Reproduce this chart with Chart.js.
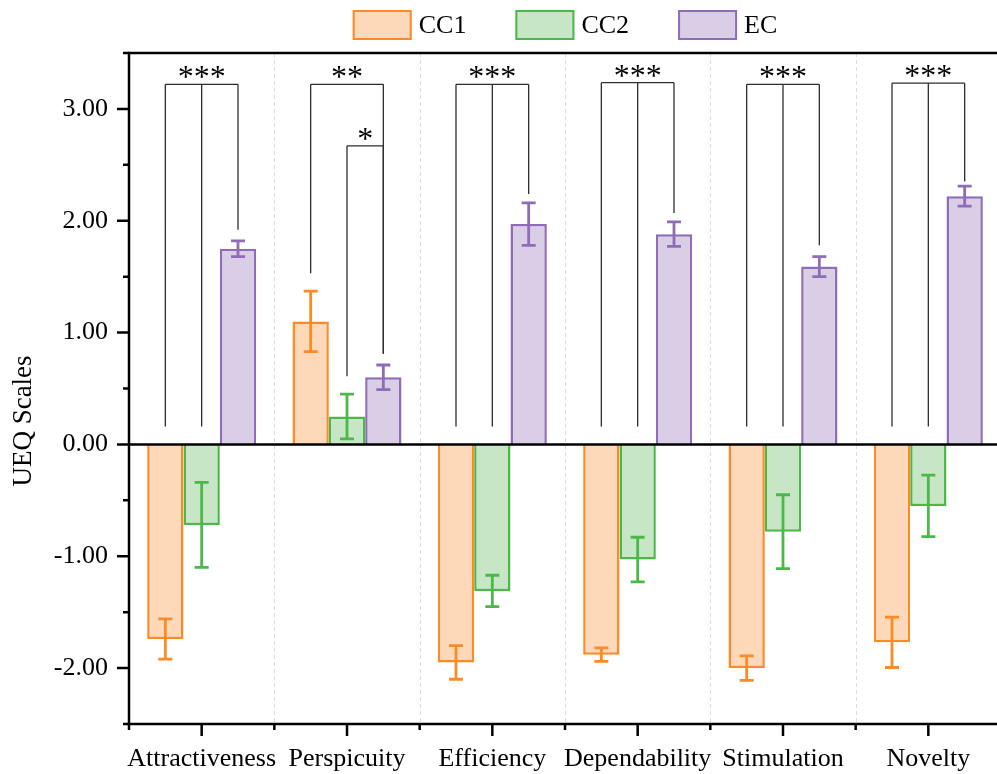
<!DOCTYPE html>
<html>
<head>
<meta charset="utf-8">
<script src="https://cdn.jsdelivr.net/npm/chart.js@4.4.1/dist/chart.umd.min.js"></script>
<style>
html,body{margin:0;padding:0;background:#fff;overflow:hidden;}
canvas{display:block;}
</style>
</head>
<body>
<canvas id="c" width="1001" height="774"></canvas>
<script>
// ---------- data ----------
const categories = ['Attractiveness', 'Perspicuity', 'Efficiency', 'Dependability', 'Stimulation', 'Novelty'];
const seriesNames = ['CC1', 'CC2', 'EC'];
const cc1 = [-1.74, 1.10, -1.95, -1.88, -2.00, -1.77];
const cc1Err = [0.18, 0.27, 0.15, 0.06, 0.11, 0.225];
const cc2 = [-0.72, 0.25, -1.31, -1.03, -0.78, -0.55];
const cc2Err = [0.38, 0.20, 0.14, 0.20, 0.33, 0.275];
const ec = [1.75, 0.60, 1.97, 1.88, 1.59, 2.22];
const ecErr = [0.07, 0.11, 0.19, 0.11, 0.09, 0.09];
const yTickValues = [-2, -1, 0, 1, 2, 3];
const yAxisTitle = 'UEQ Scales';

// significance brackets: category index, series joined, top value, line-end values, label
const bracketCats   = [0, 1, 1, 2, 3, 4, 5];
const bracketSeries = [[0,1,2], [0,2], [1,2], [0,1,2], [0,1,2], [0,1,2], [0,1,2]];
const bracketTops   = [3.22, 3.22, 2.67, 3.22, 3.235, 3.22, 3.23];
const bracketEnds   = [[0.16,0.16,1.92], [1.53,0.81], [0.61,0.81], [0.16,0.16,2.24], [0.16,0.16,2.07], [0.16,0.16,1.78], [0.16,0.16,2.35]];
const bracketLabels = ['***', '**', '*', '***', '***', '***', '***'];

// ---------- styles ----------
const FONT = '"Liberation Serif", "Times New Roman", Times, serif';
const fills = ['#FDD9B9', '#C7E6C6', '#DACDE6'];
const strokes = ['#FB8A27', '#4CB84A', '#8E6CB6'];
const values = [cc1, cc2, ec];
const errors = [cc1Err, cc2Err, ecErr];

Chart.defaults.font.family = FONT;
Chart.defaults.font.size = 26;
Chart.defaults.color = '#000';

const decorPlugin = {
  id: 'decor',
  beforeDatasetsDraw(chart) {
    const {ctx, chartArea: a, scales: {x}} = chart;
    ctx.save();
    ctx.strokeStyle = '#dcdcdc';
    ctx.lineWidth = 1;
    ctx.setLineDash([4, 3]);
    for (let i = 0; i < categories.length - 1; i++) {
      const bx = Math.round((x.getPixelForValue(i) + x.getPixelForValue(i + 1)) / 2) + 0.5;
      ctx.beginPath();
      ctx.moveTo(bx, a.top);
      ctx.lineTo(bx, a.bottom);
      ctx.stroke();
    }
    ctx.restore();
  },
  afterDatasetsDraw(chart) {
    const {ctx, chartArea: a, scales: {x, y}} = chart;
    ctx.save();
    // error bars
    ctx.lineWidth = 2.8;
    ctx.lineCap = 'butt';
    for (let d = 0; d < values.length; d++) {
      const meta = chart.getDatasetMeta(d);
      ctx.strokeStyle = strokes[d];
      meta.data.forEach((bar, j) => {
        const v = values[d][j], e = errors[d][j];
        const yt = y.getPixelForValue(v + e), yb = y.getPixelForValue(v - e);
        const cx = bar.x;
        ctx.beginPath();
        ctx.moveTo(cx, yt); ctx.lineTo(cx, yb);
        ctx.moveTo(cx - 7, yt); ctx.lineTo(cx + 7, yt);
        ctx.moveTo(cx - 7, yb); ctx.lineTo(cx + 7, yb);
        ctx.stroke();
      });
    }
    // zero line
    const y0 = y.getPixelForValue(0);
    ctx.strokeStyle = '#000';
    ctx.lineWidth = 2.5;
    ctx.beginPath();
    ctx.moveTo(a.left, y0); ctx.lineTo(a.right, y0);
    ctx.stroke();
    // brackets
    ctx.strokeStyle = '#2e2e2e';
    ctx.lineWidth = 1.3;
    ctx.fillStyle = '#000';
    ctx.font = '32px ' + FONT;
    ctx.textAlign = 'center';
    ctx.textBaseline = 'alphabetic';
    bracketCats.forEach((c, k) => {
      const xs = bracketSeries[k].map(s => chart.getDatasetMeta(s).data[c].x);
      const yt = y.getPixelForValue(bracketTops[k]);
      ctx.beginPath();
      ctx.moveTo(xs[0], yt); ctx.lineTo(xs[xs.length - 1], yt);
      xs.forEach((px, m) => {
        ctx.moveTo(px, yt);
        ctx.lineTo(px, y.getPixelForValue(bracketEnds[k][m]));
      });
      ctx.stroke();
      ctx.fillText(bracketLabels[k], (xs[0] + xs[xs.length - 1]) / 2, yt + 3);
    });
    ctx.restore();
  },
  afterDraw(chart) {
    const {ctx, chartArea: a, scales: {x, y}} = chart;
    ctx.save();
    ctx.strokeStyle = '#000';
    ctx.lineWidth = 2.5;
    ctx.lineCap = 'butt';
    const L = a.left, R = a.right, T = a.top, B = a.bottom;
    // axes frame
    ctx.beginPath();
    ctx.moveTo(L, T); ctx.lineTo(L, B);
    ctx.moveTo(L - 1.25, B); ctx.lineTo(R, B);
    ctx.moveTo(L - 1.25, T); ctx.lineTo(R, T);
    ctx.stroke();
    // y ticks
    ctx.beginPath();
    for (let v = y.min; v <= y.max + 1e-9; v += 0.5) {
      const py = y.getPixelForValue(v);
      const major = yTickValues.some(t => Math.abs(t - v) < 1e-9);
      ctx.moveTo(L - (major ? 12 : 6), py); ctx.lineTo(L, py);
    }
    // x ticks
    for (let i = 0; i < categories.length; i++) {
      const cx = x.getPixelForValue(i);
      ctx.moveTo(cx, B); ctx.lineTo(cx, B + 12);
      const lb = i === 0 ? L : (x.getPixelForValue(i - 1) + cx) / 2;
      ctx.moveTo(lb, B); ctx.lineTo(lb, B + 6);
    }
    ctx.stroke();
    // y-axis title
    ctx.save();
    ctx.translate(24, 421);
    ctx.rotate(-Math.PI / 2);
    ctx.font = '27px ' + FONT;
    ctx.fillStyle = '#000';
    ctx.textAlign = 'center';
    ctx.textBaseline = 'middle';
    ctx.fillText(yAxisTitle, 0, 0);
    ctx.restore();
    // legend
    ctx.font = '26px ' + FONT;
    ctx.textBaseline = 'middle';
    ctx.textAlign = 'left';
    const ds = chart.data.datasets;
    const boxW = 59, boxH = 30, gap = 7, itemGap = 49;
    const widths = ds.map(d => boxW + gap + ctx.measureText(d.label).width);
    const total = widths.reduce((s, w) => s + w, 0) + itemGap * (ds.length - 1);
    let lx = (L + R) / 2 - total / 2;
    ds.forEach((d, i) => {
      ctx.fillStyle = d.backgroundColor;
      ctx.fillRect(lx, 10, boxW, boxH);
      ctx.strokeStyle = d.borderColor;
      ctx.lineWidth = 2;
      ctx.strokeRect(lx + 1, 11, boxW - 2, boxH - 2);
      ctx.fillStyle = '#000';
      ctx.fillText(d.label, lx + boxW + gap, 26);
      lx += widths[i] + itemGap;
    });
    ctx.restore();
  }
};

new Chart(document.getElementById('c'), {
  type: 'bar',
  data: {
    labels: categories,
    datasets: seriesNames.map((n, i) => ({
      label: n,
      data: values[i],
      backgroundColor: fills[i],
      borderColor: strokes[i],
      borderWidth: 2.5,
      categoryPercentage: 0.75,
      barPercentage: 1.0
    }))
  },
  options: {
    responsive: false,
    animation: false,
    events: [],
    layout: {padding: {top: 53, left: 0, right: 0, bottom: 0}},
    plugins: {legend: {display: false}, tooltip: {enabled: false}},
    scales: {
      x: {
        grid: {display: false},
        border: {display: false},
        ticks: {padding: 12, font: {size: 26}, color: '#000', autoSkip: false, maxRotation: 0},
        afterFit: s => { s.height = 50; }
      },
      y: {
        min: -2.5,
        max: 3.5,
        grid: {display: false},
        border: {display: false},
        ticks: {
          stepSize: 0.5,
          autoSkip: false,
          padding: 13,
          font: {size: 26},
          color: '#000',
          callback: v => yTickValues.some(t => Math.abs(t - v) < 1e-9) ? Number(v).toFixed(2) : ''
        },
        afterFit: s => { s.width = 129; }
      }
    }
  },
  plugins: [decorPlugin]
});
</script>
</body>
</html>
